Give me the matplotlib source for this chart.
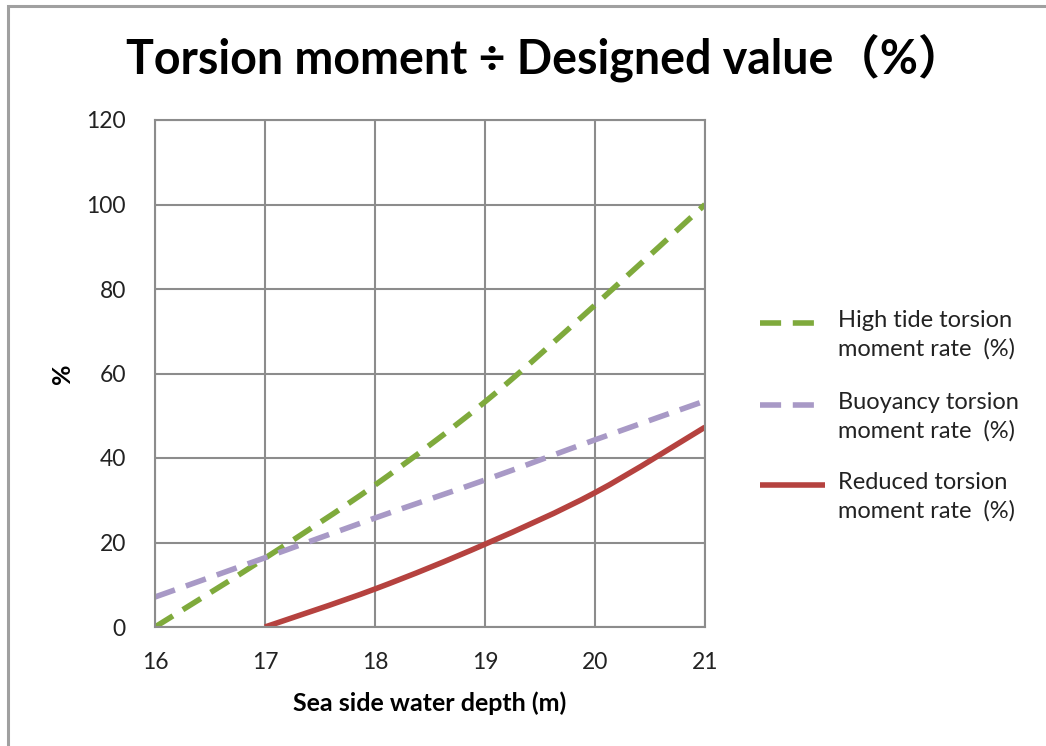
import matplotlib
matplotlib.use("Agg")
import matplotlib.pyplot as plt
from matplotlib.lines import Line2D
from matplotlib.path import Path
from matplotlib.patches import PathPatch, Rectangle

plt.rcParams['font.family'] = ['Lato', 'DejaVu Sans']

# data
depth = [16, 17, 18, 19, 20, 21]
high_tide = [0, 16.3, 33.6, 53.3, 76.2, 100]
buoyancy = [7.1, 16.4, 25.8, 34.8, 44.3, 53.5]
reduced_x = [17, 18, 19, 20, 21]
reduced = [0, 9.0, 19.6, 31.8, 47.3]

labels = ['High tide torsion\nmoment rate  (%)',
          'Buoyancy torsion\nmoment rate  (%)',
          'Reduced torsion\nmoment rate  (%)']
colors = ['#7FAA3C', '#A899C6', '#B5423F']


def smooth_path(x, y):
    # excel-like smoothed line: cubic bezier through the points
    verts = [(x[0], y[0])]
    codes = [Path.MOVETO]
    n = len(x)
    for i in range(n - 1):
        x0, y0 = (x[i - 1], y[i - 1]) if i > 0 else (x[i], y[i])
        x3, y3 = (x[i + 2], y[i + 2]) if i + 2 < n else (x[i + 1], y[i + 1])
        c1 = (x[i] + (x[i + 1] - x0) / 6, y[i] + (y[i + 1] - y0) / 6)
        c2 = (x[i + 1] - (x3 - x[i]) / 6, y[i + 1] - (y3 - y[i]) / 6)
        verts += [c1, c2, (x[i + 1], y[i + 1])]
        codes += [Path.CURVE4] * 3
    return Path(verts, codes)


fig = plt.figure(figsize=(10.46, 7.46), dpi=100)
ax = fig.add_axes([155/1046, 119/746, 550/1046, 507/746])

# outer chart border (left/top visible only, right/bottom run off the image)
fig.add_artist(Rectangle((8/1046, -0.05), 1.0, 1.05 - 6/746,
                         transform=fig.transFigure, fill=False,
                         edgecolor='#a0a0a0', lw=2.2, clip_on=False,
                         zorder=5))

lw = 4.0
dash = (0, (3.8, 2.1))
series = [(depth, high_tide, dash), (depth, buoyancy, dash),
          (reduced_x, reduced, 'solid')]
for (xs, ys, ls), c in zip(series, colors):
    ax.add_patch(PathPatch(smooth_path(xs, ys), fill=False, edgecolor=c,
                           lw=lw, linestyle=ls, capstyle='butt'))

grid_c = '#8c8c8c'
ax.set_xlim(16, 21)
ax.set_ylim(0, 120)
ax.set_xticks(depth)
ax.set_yticks(range(0, 121, 20))
ax.grid(True, color=grid_c, lw=1.5)
ax.set_axisbelow(True)
for s in ax.spines.values():
    s.set_color(grid_c)
    s.set_linewidth(1.5)
ax.tick_params(length=0, labelsize=16.5, colors='#222222', pad=18)
ax.tick_params(axis='y', pad=21)

ax.set_xlabel('Sea side water depth (m)', fontsize=18, fontweight='bold',
              labelpad=13)
ax.set_ylabel('%', fontsize=18, fontweight='bold', labelpad=9)

fig.text(0.521, 0.922, 'Torsion moment \u00f7 Designed value\uff08%\uff09',
         ha='center', va='center', fontsize=33.5, fontweight='bold',
         family=['Lato', 'Noto Sans CJK SC', 'DejaVu Sans'])

# legend, line sample aligned with the first text line
leg_y = [323, 405, 485]
for lab, c, yp, ls in zip(labels, colors, leg_y, [dash, dash, 'solid']):
    yf = 1 - yp / 746
    fig.add_artist(Line2D([760/1046, 825/1046], [yf, yf], color=c, lw=lw,
                          linestyle=ls, solid_capstyle='butt',
                          dash_capstyle='butt'))
    fig.text(838/1046, yf + 13/746, lab, ha='left', va='top',
             fontsize=17, color='#222222', linespacing=1.4)

fig.savefig('out.png', dpi=100)
